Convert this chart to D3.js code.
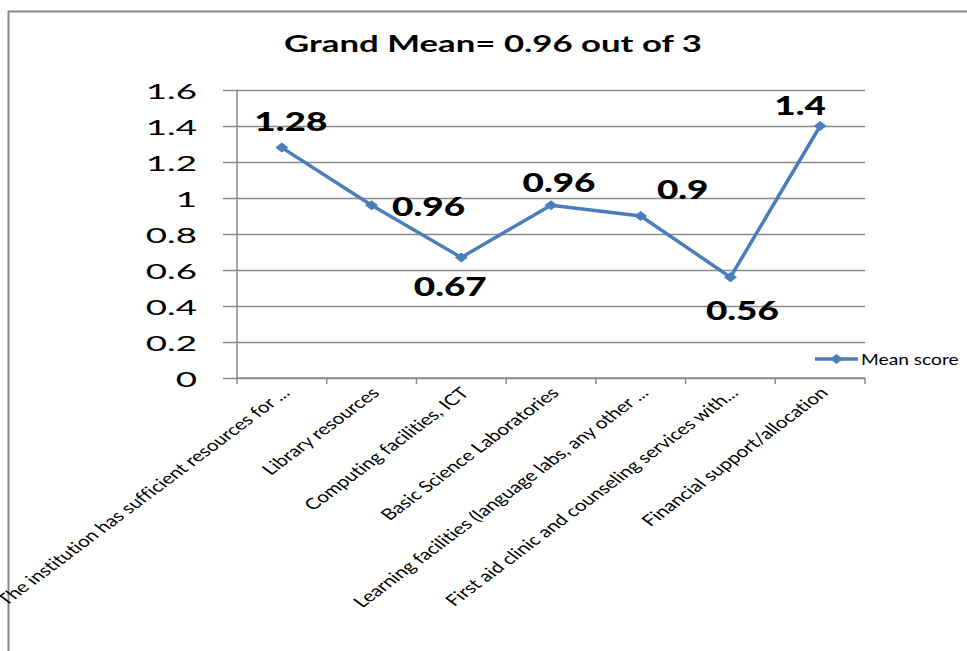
<!DOCTYPE html>
<html><head><meta charset="utf-8">
<script src="https://cdn.jsdelivr.net/npm/d3@7"></script>
<style>body{margin:0;background:#fff}svg{display:block}text{font-variant-ligatures:none}</style>
</head><body>
<svg id="c" width="967" height="651"></svg>
<script>
const title = "Grand Mean= 0.96 out of 3";
const categories = [
  "The institution has sufficient resources for ...",
  "Library resources",
  "Computing  facilities, ICT",
  "Basic Science Laboratories",
  "Learning facilities (language labs, any other ...",
  "First aid clinic and counseling services with...",
  "Financial support/allocation"
];
const meanScore = [1.28, 0.96, 0.67, 0.96, 0.9, 0.56, 1.4];
const yTicks = [0, 0.2, 0.4, 0.6, 0.8, 1, 1.2, 1.4, 1.6];
const seriesName = "Mean score";
// hand placement of data labels (pixels, relative to point)
const labelOffsets = [[9,-17],[57,11],[-11,39],[8,-13],[42,-17],[12,43],[-20,-11]];

const svg = d3.select("#c");
const blue = "#4a7ebb", grid = "#8a8a8a";
const L = 237, R = 865, T = 90, B = 378;

const x = d3.scaleBand().domain(categories).range([L, R]).padding(0);
const y = d3.scaleLinear().domain([0, 1.6]).range([B, T]);

// frame
svg.append("path").attr("d", `M8.5,651V11.5H967`).attr("fill","none").attr("stroke","#888").attr("stroke-width",2);

// title
svg.append("text").attr("transform", `translate(493,52) scale(1.58,1)`)
  .attr("text-anchor","middle").attr("font-family","Lato").attr("font-weight","bold")
  .attr("font-size",22).attr("fill","#000").text(title);

// y axis with gridlines
const yAxis = d3.axisLeft(y).tickValues(yTicks).tickSize(-(R - 223)).tickFormat(d3.format("~g"));
const gy = svg.append("g").attr("transform", `translate(223,0)`).call(yAxis);
gy.select(".domain").remove();
gy.selectAll(".tick line").attr("x1", 0).attr("x2", R - 223).attr("stroke", grid).attr("stroke-width",1.5);
gy.selectAll(".tick text").attr("x", null).attr("dy", null)
  .attr("transform", `translate(-26,0) scale(1.75,1)`)
  .attr("dominant-baseline","central")
  .attr("font-family","Lato").attr("font-size",21).attr("fill","#000").attr("text-anchor","end");

// vertical axis line
svg.append("line").attr("x1",L).attr("x2",L).attr("y1",T).attr("y2",B).attr("stroke",grid).attr("stroke-width",1.5);

// x axis
const xTickPos = d3.range(categories.length + 1).map(i => L + i * x.bandwidth());
svg.append("g").selectAll("line").data(xTickPos).join("line")
  .attr("x1", d => d).attr("x2", d => d).attr("y1", B).attr("y2", B + 6)
  .attr("stroke", grid).attr("stroke-width",1.5);
svg.append("line").attr("x1",L).attr("x2",R).attr("y1",B).attr("y2",B).attr("stroke",grid).attr("stroke-width",1.5);

svg.append("g").selectAll("text").data(categories).join("text")
  .attr("transform", d => `translate(${x(d) + x.bandwidth()/2 + 9},394) scale(1.34,1) rotate(-45)`)
  .attr("text-anchor","end").attr("font-family","Lato").attr("font-size",15.5).attr("fill","#000")
  .text(d => d);

// line
const cx = (d,i) => x(categories[i]) + x.bandwidth()/2;
svg.append("path").datum(meanScore)
  .attr("d", d3.line().x((d,i) => cx(d,i)).y(d => y(d)))
  .attr("fill","none").attr("stroke",blue).attr("stroke-width",3.5).attr("stroke-linejoin","round");

const diamond = "M0,-5L6.5,0L0,5L-6.5,0Z";
svg.append("g").selectAll("path").data(meanScore).join("path")
  .attr("transform", (d,i) => `translate(${cx(d,i)},${y(d)})`)
  .attr("d", diamond).attr("fill", blue);

// data labels
svg.append("g").selectAll("text").data(meanScore).join("text")
  .attr("transform", (d,i) => `translate(${cx(d,i) + labelOffsets[i][0]},${y(d) + labelOffsets[i][1]}) scale(1.42,1)`)
  .attr("text-anchor","middle").attr("font-family","Lato").attr("font-weight","900")
  .attr("font-size",26).attr("fill","#000").text(d => d3.format("~g")(d));

// legend
const lg = svg.append("g").attr("transform","translate(815,359)");
lg.append("line").attr("x1",0).attr("x2",43).attr("stroke",blue).attr("stroke-width",3.5);
lg.append("path").attr("transform","translate(21.5,0)").attr("d",diamond).attr("fill",blue);
lg.append("text").attr("transform","translate(46,0) scale(1.28,1)").attr("dominant-baseline","central")
  .attr("font-family","Lato").attr("font-size",15).attr("fill","#000").text(seriesName);
</script>
</body></html>
